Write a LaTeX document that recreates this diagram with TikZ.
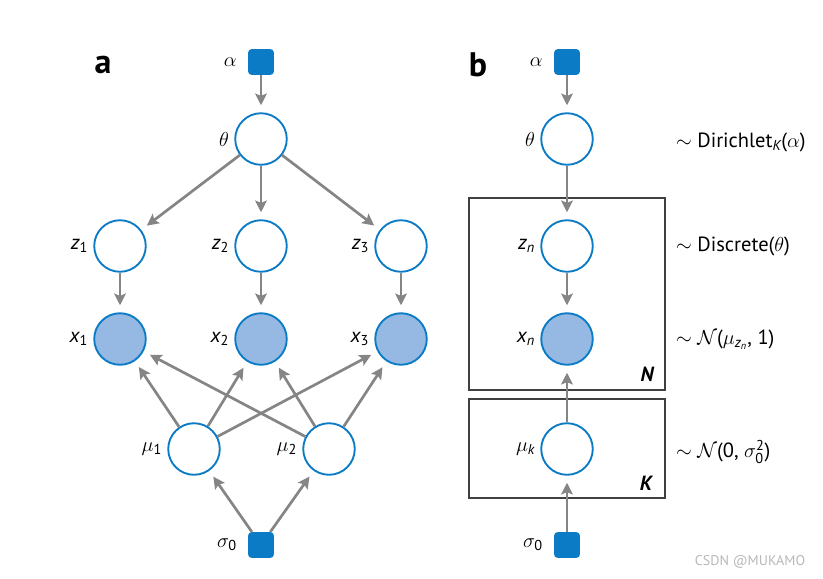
\documentclass[tikz,border=0pt]{standalone}
\usepackage{amsmath}
\usepackage{fontspec}
\setmainfont{PT Sans}
\usetikzlibrary{arrows.meta, positioning}

\definecolor{nodeblue}{HTML}{0A7BC4}
\definecolor{obsfill}{HTML}{95B9E3}
\definecolor{edgegray}{HTML}{858585}

\newcommand{\vsub}[2]{$\textit{#1}_{\text{#2}}$}

\tikzset{
	latent/.style={circle, draw=nodeblue, line width=1.6pt, fill=white, minimum size=44pt, inner sep=0pt},
	observed/.style={latent, fill=obsfill},
	hyper/.style={rectangle, rounded corners=3pt, fill=nodeblue, minimum size=22pt, inner sep=0pt},
	edge/.style={draw=edgegray, line width=2.3pt, -{Stealth[length=10pt,width=10pt,inset=2pt]}, shorten >=6pt},
	plate/.style={draw=black!75, line width=1pt},
	every label/.style={label distance=1pt}
}

\begin{document}
\begin{tikzpicture}[x=0.03cm, y=-0.03cm, font=\fontsize{17.5}{20}\selectfont]
		\useasboundingbox (0,0) rectangle (823,578);

		% Panel a
		\node (lab-a) at (103,65) {\fontsize{29}{31}\selectfont\bfseries a};
		\node[hyper, label={[label distance=6pt]left:$\alpha$}] (alpha-a) at (261,62) {};
		\node[latent, label=left:$\theta$] (theta-a) at (261,139) {};
		\node[latent, label=left:\vsub{z}{1}] (z1) at (120,246) {};
		\node[latent, label=left:\vsub{z}{2}] (z2) at (261,246) {};
		\node[latent, label=left:\vsub{z}{3}] (z3) at (401,246) {};
		\node[observed, label=left:\vsub{x}{1}] (x1) at (120,339) {};
		\node[observed, label=left:\vsub{x}{2}] (x2) at (261,339) {};
		\node[observed, label=left:\vsub{x}{3}] (x3) at (401,339) {};
		\node[latent, label=left:$\mu_{\text{1}}$] (mu1) at (194,449) {};
		\node[latent, label=left:$\mu_{\text{2}}$] (mu2) at (329,449) {};
		\node[hyper, label={[label distance=6pt]left:$\sigma_{\text{0}}$}] (sigma-a) at (261,545) {};

		\draw[edge] (alpha-a) -- (theta-a);
		\draw[edge] (theta-a) -- (z1);
		\draw[edge] (theta-a) -- (z2);
		\draw[edge] (theta-a) -- (z3);
		\draw[edge] (z1) -- (x1);
		\draw[edge] (z2) -- (x2);
		\draw[edge] (z3) -- (x3);
		\draw[edge] (mu1) -- (x1);
		\draw[edge] (mu1) -- (x2);
		\draw[edge] (mu1) -- (x3);
		\draw[edge] (mu2) -- (x1);
		\draw[edge] (mu2) -- (x2);
		\draw[edge] (mu2) -- (x3);
		\draw[edge] (sigma-a) -- (mu1);
		\draw[edge] (sigma-a) -- (mu2);

		% Panel b
		\draw[plate] (469,198) rectangle (665,390);
		\draw[plate] (469,399) rectangle (665,498);
		\node (lab-b) at (478,65) {\fontsize{29}{31}\selectfont\bfseries b};
		\node[hyper, label={[label distance=6pt]left:$\alpha$}] (alpha-b) at (567,62) {};
		\node[latent, label=left:$\theta$] (theta-b) at (567,139) {};
		\node[latent, label=left:\vsub{z}{\textit{n}}] (zn) at (567,246) {};
		\node[observed, label=left:\vsub{x}{\textit{n}}] (xn) at (567,339) {};
		\node[latent, label=left:$\mu_{\textit{k}}$] (muk) at (567,449) {};
		\node[hyper, label={[label distance=6pt]left:$\sigma_{\text{0}}$}] (sigma-b) at (567,545) {};
		\node (plate-N) at (647,374) {\bfseries\itshape N};
		\node (plate-K) at (646,483) {\bfseries\itshape K};

		\draw[edge] (alpha-b) -- (theta-b);
		\draw[edge] (theta-b) -- (zn);
		\draw[edge] (zn) -- (xn);
		\draw[edge] (muk) -- (xn);
		\draw[edge] (sigma-b) -- (muk);

		% Distributions
		\node[anchor=west] (d-theta) at (672,142) {$\sim$ Dirichlet$_{\textit{K}}$($\alpha$)};
		\node[anchor=west] (d-z) at (672,246) {$\sim$ Discrete($\theta$)};
		\node[anchor=west] (d-x) at (672,340) {$\sim \mathcal{N}$($\mu_{\textit{z}_{\textit{n}}}$, 1)};
		\node[anchor=west] (d-mu) at (672,452) {$\sim \mathcal{N}$(0, $\sigma_{\text{0}}^{\text{2}}$)};

		\node[text=black!28, font=\fontsize{12}{13}\selectfont] (mark) at (750,562) {CSDN @MUKAMO};
\end{tikzpicture}
\end{document}
